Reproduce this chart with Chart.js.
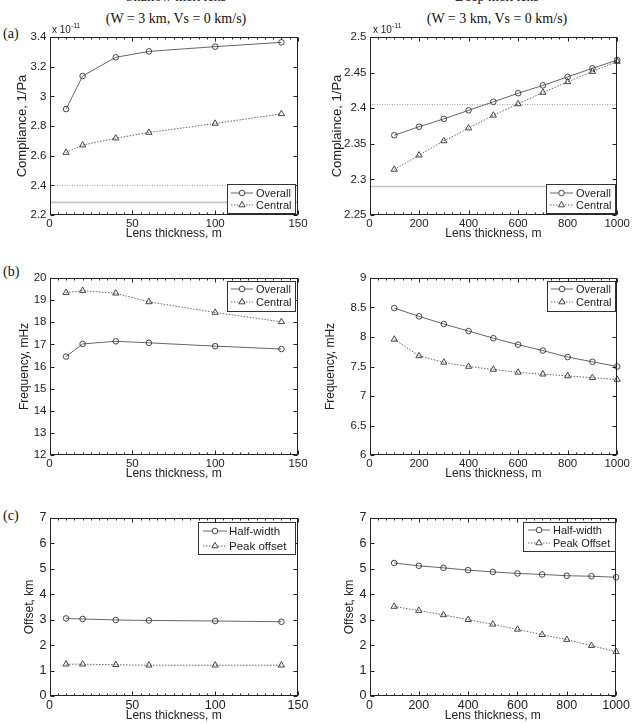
<!DOCTYPE html>
<html><head><meta charset="utf-8">
<script src="https://cdn.jsdelivr.net/npm/chart.js@4.4.0/dist/chart.umd.min.js"></script>
<style>
html,body{margin:0;padding:0;background:#fff;width:632px;height:724px;overflow:hidden;position:relative}
canvas{position:absolute}
.t{position:absolute;font-family:"Liberation Serif","Times New Roman",serif;color:#111;white-space:nowrap;font-size:14px;line-height:22px;text-align:center;width:260px}
.p{position:absolute;font-family:"Liberation Serif","Times New Roman",serif;color:#111;font-size:14px;line-height:14px}
.e{position:absolute;font-family:"Liberation Sans",Arial,sans-serif;color:#222;font-size:10px;line-height:10px;white-space:nowrap;z-index:2}
.e span{font-size:7px;position:relative;top:-5px}
#err{position:absolute;left:0;top:300px;color:red;font-size:10px;z-index:5}
</style></head><body>
<div class="t" style="left:46px;top:-14px">Shallow melt lens<br>(W = 3 km, Vs = 0 km/s)</div>
<div class="t" style="left:367px;top:-14px">Deep melt lens<br>(W = 3 km, Vs = 0 km/s)</div>
<div class="p" style="left:3px;top:27px">(a)</div>
<div class="p" style="left:3px;top:265px">(b)</div>
<div class="p" style="left:3px;top:509px">(c)</div>
<div class="e" style="left:52px;top:25px">x 10<span>-11</span></div>
<div class="e" style="left:373px;top:25px">x 10<span>-11</span></div>
<div id="err"></div>
<script>
// ---------- DATA ----------
const shallowThickness = [10, 20, 40, 60, 100, 140];
const deepThickness = [100, 200, 300, 400, 500, 600, 700, 800, 900, 1000];

// Compliance (x 1e-11 1/Pa)
const shallowComplianceOverall = [2.914, 3.137, 3.263, 3.303, 3.335, 3.364];
const shallowComplianceCentral = [2.621, 2.671, 2.718, 2.756, 2.817, 2.882];
const shallowComplianceRefDotted = 2.400;
const shallowComplianceRefSolid = 2.285;
const deepComplianceOverall = [2.362, 2.374, 2.385, 2.397, 2.409, 2.421, 2.432, 2.444, 2.456, 2.4675];
const deepComplianceCentral = [2.314, 2.334, 2.354, 2.372, 2.390, 2.406, 2.422, 2.437, 2.4515, 2.4656];
const deepComplianceRefDotted = 2.405;
const deepComplianceRefSolid = 2.290;

// Frequency (mHz)
const shallowFreqOverall = [16.45, 17.02, 17.14, 17.07, 16.92, 16.79];
const shallowFreqCentral = [19.34, 19.43, 19.31, 18.92, 18.44, 18.02];
const deepFreqOverall = [8.49, 8.35, 8.22, 8.10, 7.98, 7.87, 7.77, 7.66, 7.58, 7.50];
const deepFreqCentral = [7.96, 7.68, 7.57, 7.50, 7.45, 7.40, 7.37, 7.34, 7.31, 7.28];

// Offset (km)
const shallowHalfWidth = [3.05, 3.03, 2.99, 2.97, 2.95, 2.92];
const shallowPeakOffset = [1.25, 1.25, 1.23, 1.21, 1.21, 1.21];
const deepHalfWidth = [5.23, 5.12, 5.04, 4.95, 4.88, 4.82, 4.78, 4.73, 4.71, 4.67];
const deepPeakOffset = [3.52, 3.36, 3.19, 3.00, 2.82, 2.62, 2.41, 2.22, 1.98, 1.74];

// Ticks
const shallowXTicks = [0, 50, 100, 150];
const deepXTicks = [0, 200, 400, 600, 800, 1000];
const shallowComplianceTicks = [2.2, 2.4, 2.6, 2.8, 3.0, 3.2, 3.4];
const deepComplianceTicks = [2.25, 2.3, 2.35, 2.4, 2.45, 2.5];
const shallowFreqTicks = [12, 13, 14, 15, 16, 17, 18, 19, 20];
const deepFreqTicks = [6, 6.5, 7, 7.5, 8, 8.5, 9];
const offsetTicks = [0, 1, 2, 3, 4, 5, 6, 7];

// ---------- STYLE ----------
const SANS = '"Liberation Sans", Arial, sans-serif';
const solidStyle = {borderColor:'#666', borderWidth:1, borderDash:[], pointBorderColor:'#333'};
const dotStyle = {borderColor:'#666', borderWidth:1, borderDash:[1.5,1.5], pointBorderColor:'#333'};

function pts(xs, ys){ return xs.map((x,i)=>({x:x, y:ys[i]})); }
function fmt(v){ return String(Number(v.toFixed(4))); }

function seriesDS(label, xs, ys, style, marker){
  return Object.assign({label, data:pts(xs,ys), showLine:true, clip:false,
    pointStyle:marker, pointRadius: marker==='circle'?2.8:3.6, pointBorderWidth:0.9,
    pointBackgroundColor:'rgba(255,255,255,0)', pointHoverRadius:0, fill:false, tension:0}, style);
}
function refDS(y, xmax, dotted){
  return {label:'', data:[{x:0,y:y},{x:xmax,y:y}], showLine:true, pointRadius:0,
    borderColor: dotted?'#999':'#c4c4c4', borderWidth: dotted?1:1.6, borderDash: dotted?[1,1.5]:[], fill:false};
}

function drawFrame(chart){
  const {ctx, chartArea:a} = chart;
  const x = chart.scales.x, y = chart.scales.y;
  ctx.save();
  ctx.setLineDash([]);
  ctx.strokeStyle='#222'; ctx.lineWidth=1;
  const L=Math.round(a.left)+0.5, R=Math.round(a.right)-0.5, T=Math.round(a.top)+0.5, B=Math.round(a.bottom)-0.5;
  ctx.strokeRect(L, T, R-L, B-T);
  ctx.beginPath();
  x.ticks.forEach(t=>{ const px=Math.round(x.getPixelForValue(t.value))+0.5; ctx.moveTo(px,B); ctx.lineTo(px,B-4); ctx.moveTo(px,T); ctx.lineTo(px,T+4); });
  const n=30, step=(x.max-x.min)/n;
  for(let i=1;i<n;i++){ const v=x.min+i*step; const px=Math.round(x.getPixelForValue(v))+0.5; ctx.moveTo(px,B); ctx.lineTo(px,B-2); ctx.moveTo(px,T); ctx.lineTo(px,T+2); }
  y.ticks.forEach(t=>{ const py=Math.round(y.getPixelForValue(t.value))+0.5; ctx.moveTo(L,py); ctx.lineTo(L+4,py); ctx.moveTo(R,py); ctx.lineTo(R-4,py); });
  ctx.stroke();
  ctx.restore();
}

function drawLegend(chart){
  const lg = chart.options.plugins.boxLegend;
  if(!lg) return;
  const ctx = chart.ctx;
  const cv = chart.canvas;
  const ox = parseFloat(cv.style.left), oy = parseFloat(cv.style.top);
  const x1 = lg.box[0]-ox, y1 = lg.box[1]-oy, x2 = lg.box[2]-ox, y2 = lg.box[3]-oy;
  ctx.save();
  ctx.fillStyle='#fff';
  ctx.fillRect(x1,y1,x2-x1,y2-y1);
  ctx.strokeStyle='#333'; ctx.lineWidth=1;
  ctx.strokeRect(Math.round(x1)+0.5, Math.round(y1)+0.5, Math.round(x2-x1), Math.round(y2-y1));
  ctx.font = lg.fontSize+'px '+SANS;
  ctx.textBaseline='middle'; ctx.textAlign='left';
  lg.items.forEach((it,i)=>{
    const ds = chart.data.datasets[it];
    const yy = lg.rows[i]-oy;
    const sx1 = lg.sample[0]-ox, sx2 = lg.sample[1]-ox;
    ctx.strokeStyle = ds.borderColor; ctx.lineWidth = ds.borderWidth;
    ctx.setLineDash(ds.borderDash||[]);
    ctx.beginPath(); ctx.moveTo(sx1, yy); ctx.lineTo(sx2, yy); ctx.stroke();
    ctx.setLineDash([]);
    const cx = (sx1+sx2)/2;
    ctx.strokeStyle = ds.pointBorderColor; ctx.lineWidth = ds.pointBorderWidth;
    ctx.fillStyle='#fff';
    ctx.beginPath();
    if(ds.pointStyle==='circle'){ ctx.arc(cx, yy, ds.pointRadius, 0, Math.PI*2); }
    else {
      const r = ds.pointRadius;
      ctx.moveTo(cx, yy - r); ctx.lineTo(cx + r*0.866, yy + r*0.5); ctx.lineTo(cx - r*0.866, yy + r*0.5); ctx.closePath();
    }
    ctx.fill(); ctx.stroke();
    ctx.fillStyle='#222';
    ctx.fillText(ds.label, lg.textX-ox, yy+0.5);
  });
  ctx.restore();
}

const framePlugin = {
  id:'panelFrame',
  afterDatasetsDraw(chart){
    try { drawFrame(chart); drawLegend(chart); }
    catch(e){ document.getElementById('err').textContent += ' ' + e.message; }
  }
};

function makePanel(p){
  const c = document.createElement('canvas');
  c.width=p.w; c.height=p.h;
  c.style.left=p.left+'px'; c.style.top=p.top+'px'; c.style.width=p.w+'px'; c.style.height=p.h+'px';
  document.body.appendChild(c);
  const L = p.plotLeft - p.left, T = p.plotTop - p.top, B = p.top + p.h - p.plotBottom, R = p.left + p.w - p.plotRight;
  const ylh = p.yTitleSize*1.2/2;
  new Chart(c, {
    type:'scatter',
    data:{datasets:p.datasets},
    options:{
      responsive:false, animation:false, events:[],
      layout:{padding:{left:0, top:T, right:R, bottom:0}},
      plugins:{legend:{display:false}, tooltip:{enabled:false}, boxLegend:p.legend},
      scales:{
        x:{type:'linear', min:p.xTicks[0], max:p.xTicks[p.xTicks.length-1],
           afterBuildTicks:(s)=>{ s.ticks = p.xTicks.map(v=>({value:v})); },
           afterFit:(s)=>{ s.height = B; },
           grid:{display:false, drawTicks:false, tickLength:0}, border:{display:false},
           ticks:{autoSkip:false, maxRotation:0, padding:2, color:'#222', font:{family:SANS, size:p.tickSize}, callback:(v)=>fmt(v)},
           title:{display:true, text:'Lens thickness, m', color:'#222', font:{family:SANS, size:12}, padding:{top:0, bottom:p.xTitlePad}}},
        y:{type:'linear', min:p.yTicks[0], max:p.yTicks[p.yTicks.length-1],
           afterBuildTicks:(s)=>{ s.ticks = p.yTicks.map(v=>({value:v})); },
           afterFit:(s)=>{ s.width = L; },
           grid:{display:false, drawTicks:false, tickLength:0}, border:{display:false},
           ticks:{autoSkip:false, padding:3, color:'#222', font:{family:SANS, size:p.tickSize}, callback:(v)=>fmt(v)},
           title:{display:true, text:p.yTitle, color:'#222', font:{family:SANS, size:p.yTitleSize}, padding:{top:p.yTitleX - p.left - ylh, bottom:0}}}
      }
    },
    plugins:[framePlugin]
  });
}

// Row geometry
const rows = {
  a:{top:17, h:228, plotTop:37, plotBottom:215, xTitleCenter:234, tickSize:11.5},
  b:{top:262, h:223, plotTop:278, plotBottom:455, xTitleCenter:474, tickSize:11.5},
  c:{top:502, h:222, plotTop:518, plotBottom:696, xTitleCenter:716, tickSize:12.5}
};
const cols = {
  L:{left:0, w:312, plotLeft:49.5, plotRight:298},
  R:{left:320, w:312, plotLeft:369.5, plotRight:618}
};
function geo(r, c){
  const rr = rows[r], cc = cols[c];
  return {left:cc.left, w:cc.w, plotLeft:cc.plotLeft, plotRight:cc.plotRight,
          top:rr.top, h:rr.h, plotTop:rr.plotTop, plotBottom:rr.plotBottom, tickSize:rr.tickSize,
          xTitlePad: (rr.top + rr.h - rr.xTitleCenter) - 7.2};
}

// (a) left
makePanel(Object.assign(geo('a','L'), {
  xTicks:shallowXTicks, yTicks:shallowComplianceTicks, yTitle:'Compliance, 1/Pa', yTitleSize:13, yTitleX:22,
  datasets:[
    seriesDS('Overall', shallowThickness, shallowComplianceOverall, solidStyle, 'circle'),
    seriesDS('Central', shallowThickness, shallowComplianceCentral, dotStyle, 'triangle'),
    refDS(shallowComplianceRefDotted, 150, true),
    refDS(shallowComplianceRefSolid, 150, false)
  ],
  legend:{box:[227,184,295,213], sample:[231,253], textX:256, rows:[193,205], items:[0,1], fontSize:11}
}));
// (a) right
makePanel(Object.assign(geo('a','R'), {
  xTicks:deepXTicks, yTicks:deepComplianceTicks, yTitle:'Complaince, 1/Pa', yTitleSize:13, yTitleX:337,
  datasets:[
    seriesDS('Overall', deepThickness, deepComplianceOverall, solidStyle, 'circle'),
    seriesDS('Central', deepThickness, deepComplianceCentral, dotStyle, 'triangle'),
    refDS(deepComplianceRefDotted, 1000, true),
    refDS(deepComplianceRefSolid, 1000, false)
  ],
  legend:{box:[546,184,615,213], sample:[550,573], textX:576, rows:[193,205], items:[0,1], fontSize:11}
}));
// (b) left
makePanel(Object.assign(geo('b','L'), {
  xTicks:shallowXTicks, yTicks:shallowFreqTicks, yTitle:'Frequency, mHz', yTitleSize:12, yTitleX:25,
  datasets:[
    seriesDS('Overall', shallowThickness, shallowFreqOverall, solidStyle, 'circle'),
    seriesDS('Central', shallowThickness, shallowFreqCentral, dotStyle, 'triangle')
  ],
  legend:{box:[227,281,295,311], sample:[231,253], textX:256, rows:[289,302], items:[0,1], fontSize:11}
}));
// (b) right
makePanel(Object.assign(geo('b','R'), {
  xTicks:deepXTicks, yTicks:deepFreqTicks, yTitle:'Frequency, mHz', yTitleSize:12, yTitleX:331,
  datasets:[
    seriesDS('Overall', deepThickness, deepFreqOverall, solidStyle, 'circle'),
    seriesDS('Central', deepThickness, deepFreqCentral, dotStyle, 'triangle')
  ],
  legend:{box:[547,281,615,311], sample:[551,573], textX:576, rows:[289,302], items:[0,1], fontSize:11}
}));
// (c) left
makePanel(Object.assign(geo('c','L'), {
  xTicks:shallowXTicks, yTicks:offsetTicks, yTitle:'Offset, km', yTitleSize:12, yTitleX:30,
  datasets:[
    seriesDS('Half-width', shallowThickness, shallowHalfWidth, solidStyle, 'circle'),
    seriesDS('Peak offset', shallowThickness, shallowPeakOffset, dotStyle, 'triangle')
  ],
  legend:{box:[198,522,295,554], sample:[203,227], textX:229, rows:[531,546], items:[0,1], fontSize:11.5}
}));
// (c) right
makePanel(Object.assign(geo('c','R'), {
  xTicks:deepXTicks, yTicks:offsetTicks, yTitle:'Offset, km', yTitleSize:12, yTitleX:350,
  datasets:[
    seriesDS('Half-width', deepThickness, deepHalfWidth, solidStyle, 'circle'),
    seriesDS('Peak Offset', deepThickness, deepPeakOffset, dotStyle, 'triangle')
  ],
  legend:{box:[523,522,615,551], sample:[528,550], textX:553, rows:[530,543], items:[0,1], fontSize:11}
}));
</script>
</body></html>
